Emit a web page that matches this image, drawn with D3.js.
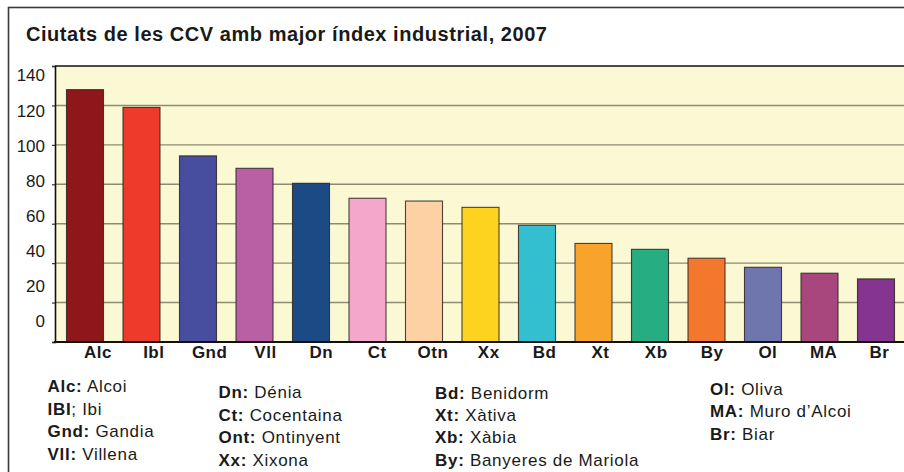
<!DOCTYPE html>
<html>
<head>
<meta charset="utf-8">
<script src="https://cdn.jsdelivr.net/npm/d3@7"></script>
<style>
  html, body { margin: 0; padding: 0; background: #ffffff; }
  svg { display: block; font-family: "Liberation Sans", Arial, Helvetica, sans-serif; }
</style>
</head>
<body>
<svg id="chart" width="904" height="472"></svg>
<script>
// ---- data ----
const categories = ["Alc", "Ibl", "Gnd", "Vll", "Dn", "Ct", "Otn", "Xx", "Bd", "Xt", "Xb", "By", "Ol", "MA", "Br"];
const values = [128, 119, 94.4, 88.1, 80.5, 72.9, 71.5, 68.3, 59.2, 50.0, 47.0, 42.5, 37.9, 34.9, 32.0];
const colors = ["#8f171c", "#ee3a2a", "#474d9f", "#b960a5", "#1b4a85", "#f5a7cb", "#fdd1a3", "#fdd31f",
                "#33bfcf", "#f7a32c", "#26ad82", "#f3772c", "#6f76ad", "#a8477e", "#85348f"];
const yTicks = [0, 20, 40, 60, 80, 100, 120, 140];
const title = "Ciutats de les CCV amb major índex industrial, 2007";
const legendKeys = ["Alc:", "IBI", "Gnd:", "Vll:", "Dn:", "Ct:", "Ont:", "Xx:", "Bd:", "Xt:", "Xb:", "By:", "Ol:", "MA:", "Br:"];
const legendNames = [" Alcoi", "; Ibi", " Gandia", " Villena", " Dénia", " Cocentaina", " Ontinyent", " Xixona",
                     " Benidorm", " Xàtiva", " Xàbia", " Banyeres de Mariola", " Oliva", " Muro d’Alcoi", " Biar"];
const legendColumn = [0, 0, 0, 0, 1, 1, 1, 1, 2, 2, 2, 2, 3, 3, 3];

// ---- layout ----
const svg = d3.select("#chart");
const plot = { left: 55, top: 66, bottom: 342, right: 912 };

// outer frame
svg.append("rect")
  .attr("x", 8.5).attr("y", 7.5).attr("width", 920).attr("height", 480)
  .attr("fill", "#ffffff").attr("stroke", "#3a3a3a").attr("stroke-width", 1.6);

// title
svg.append("text")
  .attr("x", 26).attr("y", 40.5)
  .attr("font-size", 20).attr("font-weight", "bold").attr("fill", "#1a1a1a")
  .attr("letter-spacing", 0.55)
  .text(title);

// scales
const y = d3.scaleLinear().domain([0, 140]).range([plot.bottom, plot.top]);
const yLab = d3.scaleLinear().domain([0, 140]).range([321, 75.5]);
const x = d3.scaleBand().domain(categories).range([56.75, 904.25])
  .paddingInner(0.345).paddingOuter(0.1725);
const xLab = d3.scalePoint().domain(categories).range([97.5, 879]);

// plot background
svg.append("rect")
  .attr("x", plot.left).attr("y", plot.top)
  .attr("width", plot.right - plot.left).attr("height", plot.bottom - plot.top)
  .attr("fill", "#fbf8d4");

// gridlines
svg.append("g").selectAll("line")
  .data(yTicks.filter(t => t > 0 && t < 140))
  .join("line")
  .attr("x1", plot.left).attr("x2", plot.right)
  .attr("y1", d => y(d)).attr("y2", d => y(d))
  .attr("stroke", "#8e8c70").attr("stroke-width", 1.4);

// bars
svg.append("g").selectAll("rect")
  .data(categories)
  .join("rect")
  .attr("x", d => x(d))
  .attr("y", (d, i) => y(values[i]))
  .attr("width", x.bandwidth())
  .attr("height", (d, i) => y(0) - y(values[i]))
  .attr("fill", (d, i) => colors[i])
  .attr("stroke", "rgba(45,35,35,0.85)")
  .attr("stroke-width", 1.1);

// plot border top
svg.append("line").attr("x1", plot.left).attr("x2", plot.right)
  .attr("y1", plot.top).attr("y2", plot.top)
  .attr("stroke", "#111").attr("stroke-width", 1.6);

// y axis ticks (marks) on the gridline scale
const yAxis = svg.append("g").attr("transform", `translate(${plot.left},0)`)
  .call(d3.axisLeft(y).tickValues(yTicks).tickSize(3).tickFormat(""));
yAxis.select(".domain").attr("stroke", "#111").attr("stroke-width", 1.6);
yAxis.selectAll(".tick line").attr("stroke", "#333").attr("stroke-width", 1.2);

// y tick labels
const yLabAxis = svg.append("g").attr("transform", `translate(${plot.left},0)`)
  .call(d3.axisLeft(yLab).tickValues(yTicks).tickSize(0).tickPadding(10));
yLabAxis.select(".domain").remove();
yLabAxis.selectAll("text")
  .attr("font-family", "'Liberation Sans', Arial, sans-serif")
  .attr("font-size", 17).attr("fill", "#1a1a1a");

// x axis line
svg.append("line").attr("x1", plot.left - 1).attr("x2", plot.right)
  .attr("y1", plot.bottom).attr("y2", plot.bottom)
  .attr("stroke", "#111").attr("stroke-width", 2.2);

// x labels
const xAxis = svg.append("g").attr("transform", `translate(0,${plot.bottom})`)
  .call(d3.axisBottom(xLab).tickSize(0).tickPadding(4));
xAxis.select(".domain").remove();
xAxis.selectAll("text")
  .attr("font-family", "'Liberation Sans', Arial, sans-serif")
  .attr("font-size", 17).attr("font-weight", "bold").attr("fill", "#1a1a1a")
  .attr("letter-spacing", 0.5)
  .attr("dy", "0.71em");

// legend
const colX = [47.5, 218.5, 435, 710];
const colY = [392.3, 398.3, 398.5, 395];
const rowStep = 22.4;
const rowInCol = legendColumn.map((c, i) => legendColumn.slice(0, i).filter(v => v === c).length);
const leg = svg.append("g");
const lt = leg.selectAll("text")
  .data(legendKeys)
  .join("text")
  .attr("x", (d, i) => colX[legendColumn[i]])
  .attr("y", (d, i) => colY[legendColumn[i]] + rowInCol[i] * rowStep)
  .attr("font-size", 17).attr("letter-spacing", 0.7).attr("fill", "#1a1a1a");
lt.append("tspan").attr("font-weight", "bold").text(d => d);
lt.append("tspan").text((d, i) => legendNames[i]);
</script>
</body>
</html>
